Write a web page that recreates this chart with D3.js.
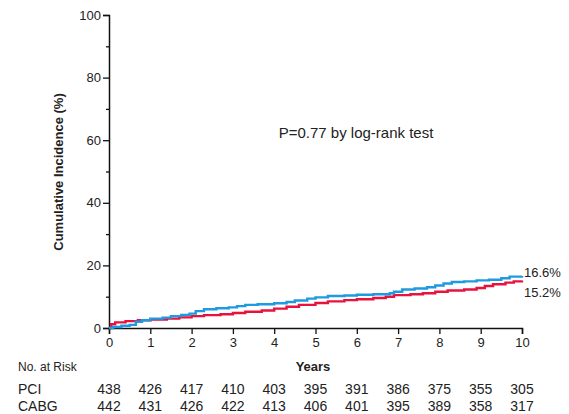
<!DOCTYPE html>
<html>
<head>
<meta charset="utf-8">
<script src="https://cdn.jsdelivr.net/npm/d3@7"></script>
<style>
  body { margin: 0; background: #fff; }
  text { font-family: "Liberation Sans", Arial, sans-serif; fill: #222; }
</style>
</head>
<body>
<div id="chart"></div>
<script>
const width = 569;
const height = 414;

// cumulative incidence curves (years, %)
const pciTimes = [0, 0.1, 0.3, 0.5, 0.65, 0.8, 1.0, 1.3, 1.5, 1.75, 1.95, 2.1, 2.3, 2.6, 2.9, 3.1, 3.3, 3.6, 4.0, 4.3, 4.5, 4.8, 5.0, 5.3, 5.7, 6.0, 6.4, 6.8, 6.9, 7.1, 7.4, 7.7, 7.9, 8.1, 8.3, 8.6, 8.9, 9.2, 9.5, 9.7, 10];
const pciValues = [0, 0.3, 0.7, 1.0, 2.0, 2.5, 3.0, 3.3, 3.8, 4.2, 4.6, 5.4, 6.0, 6.3, 6.6, 7.0, 7.4, 7.6, 7.9, 8.3, 8.8, 9.4, 9.8, 10.2, 10.4, 10.6, 10.8, 11.1, 11.6, 12.3, 12.6, 13.0, 13.6, 14.2, 14.7, 14.9, 15.2, 15.4, 15.9, 16.4, 16.6];
const cabgTimes = [0, 0.05, 0.15, 0.4, 0.7, 1.0, 1.4, 1.7, 2.0, 2.3, 2.7, 3.0, 3.3, 3.7, 4.0, 4.3, 4.6, 5.0, 5.3, 5.7, 6.0, 6.4, 6.7, 6.9, 7.3, 7.6, 7.9, 8.2, 8.6, 8.9, 9.1, 9.3, 9.6, 9.8, 10];
const cabgValues = [0, 1.2, 1.8, 2.2, 2.5, 2.7, 3.0, 3.4, 3.8, 4.1, 4.4, 4.8, 5.2, 5.6, 6.2, 6.8, 7.4, 8.0, 8.5, 8.9, 9.2, 9.6, 10.0, 10.5, 10.8, 11.1, 11.6, 12.0, 12.3, 12.8, 13.4, 14.0, 14.5, 14.9, 15.2];

const xTicks = [0, 1, 2, 3, 4, 5, 6, 7, 8, 9, 10];
const yTicks = [0, 20, 40, 60, 80, 100];
const yMinorTicks = [10, 30, 50, 70, 90];
const groups = ['PCI', 'CABG'];
const pciAtRisk = [438, 426, 417, 410, 403, 395, 391, 386, 375, 355, 305];
const cabgAtRisk = [442, 431, 426, 422, 413, 406, 401, 395, 389, 358, 317];
const endLabels = ['16.6%', '15.2%'];

const svg = d3.select('#chart')
  .append('svg')
  .attr('width', width)
  .attr('height', height);

const x = d3.scaleLinear().domain([0, 10]).range([109, 522]);
const y = d3.scaleLinear().domain([0, 100]).range([328, 15]);

// y axis
const yAxis = svg.append('g')
  .attr('transform', `translate(${x(0)},0)`)
  .call(d3.axisLeft(y).tickValues(yTicks).tickSize(6).tickPadding(2));
yAxis.select('.domain').attr('stroke', '#111').attr('stroke-width', 1.5);
yAxis.selectAll('.tick line').attr('stroke', '#111').attr('stroke-width', 1.3);
yAxis.selectAll('.tick text').style('font-size', '13px').attr('fill', '#222');

svg.append('g')
  .attr('transform', `translate(${x(0)},0)`)
  .call(d3.axisLeft(y).tickValues(yMinorTicks).tickSize(3).tickFormat(''))
  .call(g => g.select('.domain').remove())
  .selectAll('.tick line').attr('stroke', '#111').attr('stroke-width', 1.3);

// x axis
const xAxis = svg.append('g')
  .attr('transform', `translate(0,${y(0)})`)
  .call(d3.axisBottom(x).tickValues(xTicks).tickSize(6).tickPadding(4));
xAxis.select('.domain').attr('stroke', '#111').attr('stroke-width', 1.5);
xAxis.selectAll('.tick line').attr('stroke', '#111').attr('stroke-width', 1.3);
xAxis.selectAll('.tick text').style('font-size', '13px').attr('fill', '#222');

// axis titles
svg.append('text')
  .attr('transform', `translate(63,172) rotate(-90)`)
  .attr('text-anchor', 'middle')
  .style('font-size', '13px')
  .style('font-weight', 'bold')
  .text('Cumulative Incidence (%)');

svg.append('text')
  .attr('x', 313)
  .attr('y', 371)
  .attr('text-anchor', 'middle')
  .style('font-size', '13px')
  .style('font-weight', 'bold')
  .text('Years');

svg.append('text')
  .attr('x', 356)
  .attr('y', 138)
  .attr('text-anchor', 'middle')
  .style('font-size', '15px')
  .text('P=0.77 by log-rank test');

// curves
const line = d3.line()
  .x(d => x(d[0]))
  .y(d => y(d[1]))
  .curve(d3.curveStepAfter);

const curves = [
  { times: cabgTimes, values: cabgValues, color: '#e8123e' },
  { times: pciTimes, values: pciValues, color: '#1e9be0' }
];

svg.selectAll('path.curve')
  .data(curves)
  .enter()
  .append('path')
  .attr('class', 'curve')
  .attr('d', d => line(d.times.map((t, i) => [t, d.values[i]])))
  .attr('fill', 'none')
  .attr('stroke', d => d.color)
  .attr('stroke-width', 2.4);

// end labels
svg.selectAll('text.endlabel')
  .data(endLabels)
  .enter()
  .append('text')
  .attr('class', 'endlabel')
  .attr('x', 524)
  .attr('y', (d, i) => i === 0 ? y(pciValues[pciValues.length - 1]) + 1 : y(cabgValues[cabgValues.length - 1]) + 17)
  .style('font-size', '13px')
  .text(d => d);

// number at risk table
svg.append('text')
  .attr('x', 18)
  .attr('y', 371)
  .style('font-size', '12px')
  .text('No. at Risk');

const atRisk = [pciAtRisk, cabgAtRisk];
const rowY = [394, 411];

groups.forEach((g, r) => {
  svg.append('text')
    .attr('x', 18)
    .attr('y', rowY[r])
    .style('font-size', '14px')
    .text(g);
  svg.selectAll(`text.risk${r}`)
    .data(atRisk[r])
    .enter()
    .append('text')
    .attr('class', `risk${r}`)
    .attr('x', (d, i) => x(xTicks[i]))
    .attr('y', rowY[r])
    .attr('text-anchor', 'middle')
    .style('font-size', '14px')
    .text(d => d);
});
</script>
</body>
</html>
